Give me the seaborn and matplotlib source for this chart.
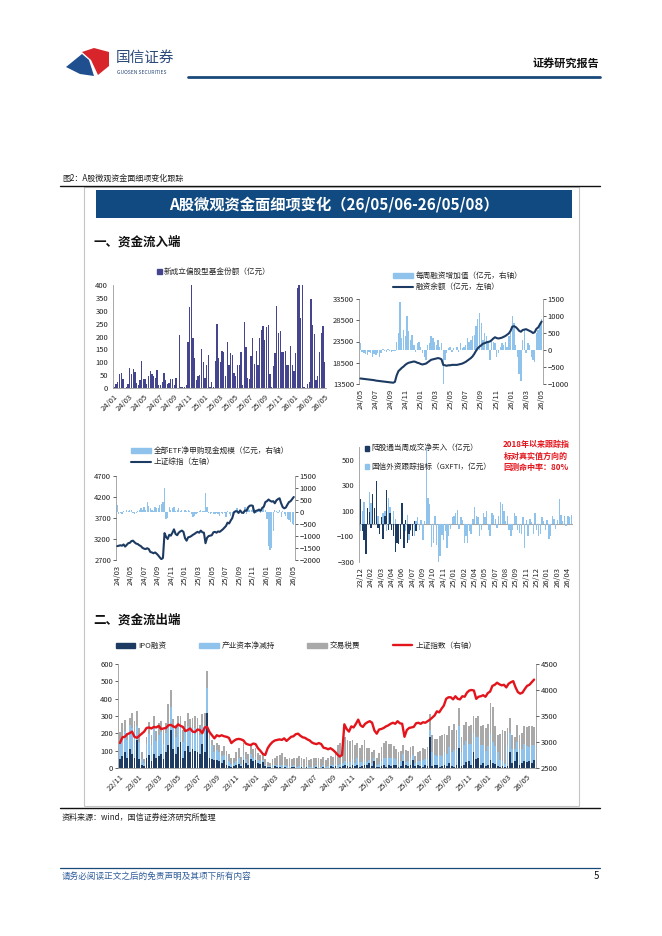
import numpy as np
import pandas as pd
import matplotlib
matplotlib.use("Agg")
import matplotlib.pyplot as plt
import seaborn as sns
from matplotlib.patches import Rectangle, Polygon, Patch
from matplotlib.lines import Line2D

# ---------------- data ----------------
p1_ticks = ['24/01', '24/03', '24/05', '24/07', '24/09', '24/11', '25/01', '25/03',
            '25/05', '25/07', '25/09', '25/11', '26/01', '26/03', '26/05']
new_fund = [5, 15, 25, 55, 60, 35, 0, 5, 15, 78, 55, 72, 62, 20, 10, 30, 105, 35, 35, 15,
            45, 65, 55, 45, 40, 68, 10, 10, 25, 60, 30, 15, 20, 35, 35, 10, 40, 0, 205, 5,
            5, 5, 10, 180, 315, 400, 195, 115, 30, 45, 50, 150, 100, 40, 90, 130, 5, 25, 5, 105,
            250, 115, 100, 145, 140, 45, 180, 90, 135, 130, 60, 45, 90, 90, 140, 10, 255, 160, 40, 35,
            125, 195, 95, 145, 90, 195, 225, 240, 185, 235, 245, 55, 5, 85, 135, 320, 215, 220, 140, 140,
            145, 90, 90, 165, 90, 65, 135, 390, 400, 270, 400, 5, 0, 15, 25, 345, 245, 210, 30, 45,
            140, 215, 240, 100]

p2_ticks = ['24/05', '24/07', '24/09', '24/11', '25/01', '25/03', '25/05', '25/07',
            '25/09', '25/11', '26/01', '26/03', '26/05']
margin_chg = [200, -50, -80, -120, -150, -60, -100, -200, -120, -150, -80, -200, -100,
              30, -40, -60, 20, -30, -60, -20, -40, 250, 500, 1400, 350, 600,
              400, 1000, 550, 300, 450, 150, -50, 200, 250, 100, -100, -200, -300,
              150, 200, 400, 350, 250, 150, 300, 100, 200, -1000, -300, -100, 50,
              100, -50, 50, 0, 100, -50, 200, 50, 100, 150, 350, 250, 300,
              400, 450, 700, 900, 1100, 800, 300, 500, 400, 200, -300, 300, 250,
              200, -200, -100, 100, 200, 150, 250, 100, 400, 500, 1000, 800, 150,
              -200, -700, -900, 300, 600, -100, 200, 150, -200, -300, -350, 500, 600, 800, 900]
margin_bal = [14800, 14750, 14700, 14650, 14600, 14550, 14500, 14450,
              14400, 14300, 14250, 14200, 14150, 14100, 14050, 14000, 13950,
              13900, 13850, 13800, 14000, 15500, 16500, 16900, 17300, 17600,
              18000, 18300, 18500, 18600, 18700, 18800, 18700, 18500, 18400,
              18200, 18100, 18200, 18300, 18600, 18900, 19200, 19300,
              19400, 19500, 19600, 19500, 19300, 18000, 17900, 17800, 17900,
              17900, 18000, 18000, 18000, 18000, 18100, 18200, 18300, 18500,
              18700, 19000, 19300, 19600, 20000, 20600, 21300, 21900, 22300,
              22600, 23000, 23100, 23300, 23400, 23500, 23800, 24200,
              24500, 24300, 24200, 24300, 24400, 24600, 24800, 25100, 25400,
              26000, 27000, 27100, 26900, 26500, 26000, 25800, 26200,
              26300, 26400, 26200, 26000, 25800, 25500, 25700, 26500, 26800, 27500, 28200]

p3_ticks = ['24/03', '24/05', '24/07', '24/09', '24/11', '25/01', '25/03', '25/05',
            '25/07', '25/09', '25/11', '26/01', '26/03', '26/05']
etf_flow = [300, -100, -50, -80, 50, 20, 80, 60, 100, 100, -50, -100, -30, 50, 80, 150, 100,
            200, 100, 400, 250, 150, 100, 50, 200, 180, 150, 300, 350, 400,
            1000, -300, -250, 200, 100, 150, 200, 50, 100, 150, 50, 100, 0,
            80, 50, 100, 50, -100, -200, -150, -100, -50, 50, 100, 50, 30,
            800, 200, -50, -100, -50, -100, -80, -30, -100, -150, -50, -100,
            -50, -200, 50, -100, -150, -100, 50, 100, 150, 50, 100, -100, 50,
            200, -100, 150, 100, 100, 200, 50, -50, 100, 50, -50, 100, 150,
            100, -300, -1400, -1600, -1500, -800, 100, 50, -50, 100, -200, 50, -100,
            -150, -300, -350, -400, -500, -550]
sse_index = [3030, 3040, 3050, 3040, 3070, 3020, 3060, 3100, 3110, 3150, 3160, 3120, 3090,
             3080, 3050, 3030, 2990, 2970, 2960, 2980, 2960, 2890, 2880, 2860, 2880, 2850,
             2810, 2760, 2720, 2750, 3340, 3250, 3200, 3300, 3280, 3350, 3430, 3320, 3290,
             3350, 3380, 3400, 3370, 3220, 3160, 3240, 3250, 3270, 3300, 3320, 3350,
             3370, 3350, 3400, 3360, 3350, 3100, 3230, 3270, 3280, 3290, 3360, 3370, 3350,
             3380, 3370, 3400, 3430, 3470, 3510, 3590, 3570, 3640, 3700, 3830, 3860, 3860,
             3820, 3880, 3830, 3820, 3880, 3870, 3950, 3990, 4000, 3990, 3830, 3870,
             3880, 3900, 3870, 3940, 3970, 4080, 4100, 4140, 4110, 4090, 4100, 4050, 4120,
             4150, 4170, 4050, 3960, 3930, 3950, 4020, 4080, 4100, 4150, 4200]

p4_ticks = ['23/12', '24/02', '24/03', '24/04', '24/06', '24/07', '24/09', '24/10', '24/11',
            '25/01', '25/02', '25/04', '25/05', '25/07', '25/08', '25/09', '25/11', '25/12',
            '26/01', '26/03', '26/04']
hgt_net = [190, -60, -130, -240, 120, 90, -30, 230, 120, 330, -30, -80, 50, -120, 60, 260,
           -50, 80, -50, -100, -220, -150, -160, -120, 160, -190, 30, -150, -80, -50, -100, 20, -60]
gxfti = [-60, 100, 170, -180, 60, 250, 160, 200, 110, 150, 60, -40, 40, 80, 100, -60, 200, 130,
         -30, 100, 40, -90, -80, -100, 50, -140, -60, 70, -130, -60, -20, -100, 20, 50, -50, 30,
         -130, 20,
         600, 200, 150, -180, -150, 60, -170, -300, -250, -90,
         -130, -60, -190, -100, -40, 50, 60, 80, 110, -40,
         50, 30, -150, -100, -150, -60, -80, 40, 130, 60,
         50, -100, -50, 80, 50, 100, -50, -100, 80, 70,
         40, -30, 60, 170, 150, 100, 20, 60, -50, -100,
         -50, 80, 60, -50, -70, -80, 50, -190, 30, -100,
         40, 10, -80, 80, -50, -100, -80, 50, 20, -50,
         30, -120, -100, 60, 40, -40, 30, 190, 70, 20,
         60, -20, 60, 50, 70]

p5_ticks = ['22/11', '23/01', '23/03', '23/05', '23/07', '23/09', '23/11', '24/01', '24/03',
            '24/05', '24/07', '24/09', '24/11', '25/01', '25/03', '25/05', '25/07', '25/09',
            '25/11', '26/01', '26/03', '26/05']
ipo = [50, 70, 95, 60, 110, 80, 60, 160,
       50, 20, 10, 60, 75, 40, 80, 55,
       70, 80, 50, 90, 130, 220, 110, 80,
       120, 150, 60, 100, 125, 90, 110, 100,
       90, 80, 140, 90, 320, 60, 50, 45,
       45, 40, 30, 45, 20, 10, 5, 10,
       20, 25, 10, 45, 30, 15, 50, 40,
       45, 30, 25, 35, 10, 5, 5, 0,
       10, 5, 5, 0, 5, 0, 0, 5,
       5, 0, 0, 5, 0, 5, 0, 0,
       0, 5, 0, 0, 5, 0, 0, 10,
       5, 10, 0, 5, 10, 15, 10, 5,
       20, 10, 15, 5, 10, 20, 15, 30,
       10, 40, 5, 5, 10, 15, 5, 20,
       10, 15, 20, 5, 10, 40, 15, 10,
       20, 45, 10, 15, 10, 5, 20, 10,
       180, 10, 15, 20, 5, 10, 15, 10,
       30, 10, 5, 20, 115, 10, 20, 35,
       40, 20, 90, 50, 60, 20, 30, 10,
       15, 45, 30, 25, 10, 5, 10, 5,
       10, 90, 30, 40, 90, 20, 30, 40,
       35, 40, 30, 45]
net_reduce = [100, 110, 120, 100, 140, 150, 150, 80,
              100, 30, 20, 80, 120, 90, 150, 100,
              120, 130, 90, 110, 110, 130, 120, 100,
              120, 100, 90, 110, 120, 140, 120, 130,
              120, 110, 100, 150, 140, 110, 80, 50,
              60, 50, 40, 30, 50, 30, 20, 20,
              20, 30, 15, 30, 20, 15, 30, 20,
              20, 15, 15, 10, 10, 5, 5, 20,
              10, 15, 10, 15, 10, 10, 10, 5,
              10, 5, 10, 10, 5, 10, 5, 5,
              5, 10, 5, 5, 10, 5, 10, 10,
              10, 15, 20, 20, 20, 25, 20, 30,
              30, 20, 40, 30, 25, 30, 20, 15,
              20, 15, 10, 20, 30, 40, 50, 40,
              50, 40, 30, 20, 30, 40, 20, 30,
              40, 30, 20, 25, 30, 40, 30, 40,
              40, 80, 60, 50, 70, 60, 80, 70,
              90, 80, 100, 90, 130, 80, 110, 120,
              100, 120, 110, 130, 120, 110, 100, 90,
              110, 150, 120, 100, 80, 40, 30, 20,
              120, 110, 80, 70, 60, 90, 80, 100,
              90, 80, 100, 90]
trade_tax = [60, 80, 60, 40, 40, 90, 60, 90,
             80, 40, 20, 40, 70, 60, 70, 60,
             70, 60, 80, 60, 130, 100, 50, 70,
             60, 50, 70, 60, 70, 50, 60, 70,
             80, 60, 70, 80, 100, 40, 30, 40,
             40, 40, 30, 50, 30, 40, 30, 30,
             50, 60, 40, 70, 40, 50, 60, 50,
             50, 40, 35, 40, 30, 25, 20, 30,
             40, 50, 60, 70, 50, 40, 50, 40,
             40, 50, 60, 40, 45, 50, 40, 45,
             50, 40, 55, 45, 50, 40, 45, 50,
             50, 60, 110, 120, 130, 140, 130, 120,
             110, 100, 90, 80, 100, 110, 80, 70,
             60, 50, 40, 60, 80, 90, 100, 80,
             80, 70, 60, 70, 60, 50, 70, 60,
             60, 50, 40, 50, 60, 70, 60, 70,
             90, 100, 90, 100, 110, 120, 100, 110,
             120, 130, 150, 110, 100, 90, 120, 110,
             100, 110, 100, 110, 120, 110, 120, 130,
             130, 180, 200, 120, 100, 150, 180, 190,
             100, 90, 80, 70, 100, 80, 90, 100,
             110, 120, 110, 100]
sse_early = [2980, 3090, 3100, 3150, 3170, 3200, 3100, 3080, 3120, 3160, 3200, 3270,
             3280, 3260, 3290, 3280, 3310, 3250, 3260, 3270, 3320, 3330, 3300, 3280,
             3340, 3310, 3290, 3210, 3230, 3260, 3200, 3190, 3240, 3230, 3170, 3280,
             3290, 3190, 3130, 3070, 3130, 3110, 3130, 3110, 3100, 3080, 2980, 3020,
             3050, 3060, 3050, 3030, 2970, 2950, 2940, 2970, 2960, 2880, 2830, 2770,
             2750, 2880, 2950, 3000]

# ---------------- style ----------------
sns.set_theme(style="white")
plt.rcParams['font.family'] = ['Noto Sans CJK SC', 'DejaVu Sans']
plt.rcParams['axes.unicode_minus'] = True

NAVY = '#1c3a62'
LBLUE = '#8fc3ec'
PURP = '#45458f'
GRAY = '#a9a9a9'
RED = '#e3141b'
BANNER = '#114a80'
TICK_FS = 5.5

W, H = 662, 936
fig = plt.figure(figsize=(W / 100, H / 100), dpi=100)
fig.patch.set_facecolor('white')


def R(x0, y0, x1, y1):
    return [x0 / W, 1 - y1 / H, (x1 - x0) / W, (y1 - y0) / H]


def P(x, y):
    return (x / W, 1 - y / H)


def hline(x0, x1, y, color, lw):
    fig.add_artist(Line2D([x0 / W, x1 / W], [1 - y / H, 1 - y / H], color=color, lw=lw,
                          transform=fig.transFigure))


def style(ax, spines=('left',)):
    for s in ['left', 'right', 'top', 'bottom']:
        ax.spines[s].set_visible(s in spines)
        ax.spines[s].set_color('#9a9a9a')
        ax.spines[s].set_linewidth(0.6)
    ax.tick_params(labelsize=TICK_FS, colors='#222222', length=2, width=0.5, pad=1.5)
    ax.set_xlabel('')
    ax.set_ylabel('')
    ax.patch.set_alpha(0)


# ---------------- page decoration ----------------
fig.add_artist(Polygon([P(66, 67), P(82, 54), P(89, 60), P(94, 76), P(80, 74)], closed=True,
                       facecolor='#1f4f8f', edgecolor='none', transform=fig.transFigure))
fig.add_artist(Polygon([P(82, 52), P(94, 48), P(109, 52), P(109, 66), P(98, 75), P(91, 60)],
                       closed=True, facecolor='#d8242b', edgecolor='none', transform=fig.transFigure))
fig.text(*P(116, 58), '国信证券', fontsize=10.5, color='#2b4a7a', va='center', ha='left')
fig.text(*P(117, 72), 'GUOSEN SECURITIES', fontsize=3.6, color='#2b4a7a', va='center', ha='left')
hline(188, 600, 76.5, '#1a4a7a', 2.0)
fig.text(*P(599, 63), '证券研究报告', fontsize=8, fontweight='bold', color='#111111',
         va='center', ha='right')

fig.text(*P(62, 178), '图2：A股微观资金面细项变化跟踪', fontsize=5.8, color='#222222',
         va='center', ha='left')
hline(60, 600, 186, '#111111', 1.0)
fig.add_artist(Rectangle(P(84, 806), (579 - 84) / W, (806 - 187) / H, fill=False,
                         edgecolor='#c4c4c4', lw=0.8, transform=fig.transFigure))
fig.add_artist(Rectangle(P(96, 218), (572 - 96) / W, (218 - 190) / H, facecolor=BANNER,
                         edgecolor='none', transform=fig.transFigure))
fig.text(*P(334, 204), 'A股微观资金面细项变化（26/05/06-26/05/08）', fontsize=11,
         fontweight='bold', color='white', va='center', ha='center')
fig.text(*P(93, 242), '一、资金流入端', fontsize=9, fontweight='bold', color='#111111',
         va='center', ha='left')
fig.text(*P(93, 620), '二、资金流出端', fontsize=9, fontweight='bold', color='#111111',
         va='center', ha='left')
hline(60, 600, 808, '#111111', 1.0)
fig.text(*P(62, 817), '资料来源：wind，国信证券经济研究所整理', fontsize=5.8, color='#222222',
         va='center', ha='left')
hline(60, 600, 868, '#1a4a7a', 0.9)
fig.text(*P(62, 876), '请务必阅读正文之后的免责声明及其项下所有内容', fontsize=6.2, style='italic',
         color='#2f5c9a', va='center', ha='left')
fig.text(*P(599, 876), '5', fontsize=7, color='#111111', va='center', ha='right')

# ---------------- panel 1: new equity funds ----------------
ax1 = fig.add_axes(R(113, 285, 326, 388))
n1 = len(new_fund)
df1 = pd.DataFrame({'x': np.arange(n1), 'v': new_fund})
sns.barplot(data=df1, x='x', y='v', color=PURP, native_scale=True, width=0.75, linewidth=0,
            saturation=1, errorbar=None, ax=ax1)
ax1.set_xlim(-0.8, n1 - 0.2)
ax1.set_ylim(0, 400)
ax1.set_yticks(range(0, 401, 50))
ax1.set_xticks(np.linspace(0, n1 - 1, len(p1_ticks)))
ax1.set_xticklabels(p1_ticks, rotation=45, ha='right', rotation_mode='anchor')
style(ax1, ('left', 'bottom'))
ax1.legend(handles=[Patch(color=PURP)], labels=['新成立偏股型基金份额（亿元）'], loc='center',
           bbox_to_anchor=P(214, 272), bbox_transform=fig.transFigure, frameon=False,
           fontsize=5.5, handlelength=0.6, handleheight=0.6, handletextpad=0.3)


def dual_panel(rect, bars, line, bar_lim, bar_ticks, line_lim, line_ticks, ticks):
    ax = fig.add_axes(rect)
    nb = len(bars)
    dfb = pd.DataFrame({'x': np.arange(nb), 'v': bars})
    sns.barplot(data=dfb, x='x', y='v', color=LBLUE, native_scale=True, width=0.8,
                linewidth=0, saturation=1, errorbar=None, ax=ax)
    ax.set_ylim(*bar_lim)
    ax.set_yticks(bar_ticks)
    axt = ax.twinx()
    dfl = pd.DataFrame({'x': np.linspace(0, nb - 1, len(line)), 'v': line})
    sns.lineplot(data=dfl, x='x', y='v', color=NAVY, lw=1.5, ax=axt)
    axt.set_ylim(*line_lim)
    axt.set_yticks(line_ticks)
    ax.yaxis.tick_right()
    axt.yaxis.tick_left()
    ax.set_xlim(-0.8, nb - 0.2)
    ax.set_xticks(np.linspace(0, nb - 1, len(ticks)))
    ax.set_xticklabels(ticks, rotation=90)
    style(ax, ('left', 'right'))
    style(axt, ())
    return ax, axt


# ---------------- panel 2: margin financing ----------------
dual_panel(R(359, 299, 543, 384), margin_chg, margin_bal, (-1000, 1500),
           range(-1000, 1501, 500), (13500, 33500), range(13500, 33501, 5000), p2_ticks)
fig.legend(handles=[Patch(color=LBLUE), Line2D([], [], color=NAVY, lw=1.5)],
           labels=['每周融资增加值（亿元，右轴）', '融资余额（亿元，左轴）'], loc='upper left',
           bbox_to_anchor=P(386, 265), frameon=False, fontsize=5.5, handlelength=2.6,
           handleheight=0.6, handletextpad=0.4, labelspacing=0.45)

# ---------------- panel 3: ETF flows & SSE ----------------
dual_panel(R(116, 476, 295, 560), etf_flow, sse_index, (-2000, 1500),
           range(-2000, 1501, 500), (2700, 4700), range(2700, 4701, 500), p3_ticks)
fig.legend(handles=[Patch(color=LBLUE), Line2D([], [], color=NAVY, lw=1.5)],
           labels=['全部ETF净申购现金规模（亿元，右轴）', '上证综指（左轴）'], loc='upper left',
           bbox_to_anchor=P(124, 440), frameon=False, fontsize=5.5, handlelength=2.6,
           handleheight=0.6, handletextpad=0.4, labelspacing=0.45)

# ---------------- panel 4: northbound / GXFTI ----------------
ax4 = fig.add_axes(R(359, 447, 573, 562))
n4 = len(gxfti)
df4 = pd.DataFrame({'x': np.arange(n4), 'v': gxfti})
df4h = pd.DataFrame({'x': np.arange(len(hgt_net)), 'v': hgt_net})
ax4.axhline(0, color='#a6a6a6', lw=0.8, zorder=0)
sns.barplot(data=df4, x='x', y='v', color=LBLUE, native_scale=True, width=0.8, linewidth=0,
            saturation=1, errorbar=None, ax=ax4)
sns.barplot(data=df4h, x='x', y='v', color=NAVY, native_scale=True, width=0.8, linewidth=0,
            saturation=1, errorbar=None, ax=ax4)
ax4.set_ylim(-300, 600)
ax4.set_yticks([-300, -100, 100, 300, 500])
ax4.set_xlim(-1, n4)
ax4.set_xticks(np.arange(len(p4_ticks)) * 6)
ax4.set_xticklabels(p4_ticks, rotation=90)
style(ax4, ('left',))
ax4.legend(handles=[Patch(color=NAVY), Patch(color=LBLUE)],
           labels=['陆股通当周成交净买入（亿元）', '国信外资跟踪指标（GXFTI，亿元）'],
           loc='upper left', bbox_to_anchor=P(358, 438), bbox_transform=fig.transFigure,
           frameon=False, fontsize=5.5, handlelength=0.6, handleheight=0.6,
           handletextpad=0.3, labelspacing=1.3)
for i, t in enumerate(['2018年以来跟踪指', '标对真实值方向的', '回测命中率：80%']):
    fig.text(*P(536, 445 + 11 * i), t, fontsize=5.8, fontweight='bold', color=RED,
             va='center', ha='center')

# ---------------- panel 5: outflows ----------------
ax5 = fig.add_axes(R(118, 664, 536, 768))
n5 = len(ipo)
ipo_a = np.array(ipo, dtype=float)
red_a = np.array(net_reduce, dtype=float)
tax_a = np.array(trade_tax, dtype=float)
df5 = pd.DataFrame({'x': np.arange(n5), 'ipo': ipo_a, 'mid': ipo_a + red_a,
                    'top': ipo_a + red_a + tax_a})
sns.barplot(data=df5, x='x', y='top', color=GRAY, native_scale=True, width=0.75, linewidth=0,
            saturation=1, errorbar=None, ax=ax5)
sns.barplot(data=df5, x='x', y='mid', color=LBLUE, native_scale=True, width=0.75, linewidth=0,
            saturation=1, errorbar=None, ax=ax5)
sns.barplot(data=df5, x='x', y='ipo', color=NAVY, native_scale=True, width=0.75, linewidth=0,
            saturation=1, errorbar=None, ax=ax5)
ax5.set_ylim(0, 600)
ax5.set_yticks(range(0, 601, 100))
ax5t = ax5.twinx()
n_early = len(sse_early)
x_line = np.concatenate([np.arange(n_early), np.linspace(n_early, n5 - 1, len(sse_index))])
df5l = pd.DataFrame({'x': x_line, 'v': list(sse_early) + list(sse_index)})
sns.lineplot(data=df5l, x='x', y='v', color=RED, lw=1.7, ax=ax5t)
ax5t.set_ylim(2500, 4500)
ax5t.set_yticks(range(2500, 4501, 500))
ax5.set_xlim(-0.8, n5 - 0.2)
ax5.set_xticks(np.arange(len(p5_ticks)) * 8)
ax5.set_xticklabels(p5_ticks, rotation=45, ha='right', rotation_mode='anchor')
style(ax5, ('left', 'right', 'bottom'))
style(ax5t, ())
fig.legend(handles=[Patch(color=NAVY), Patch(color=LBLUE), Patch(color=GRAY),
                    Line2D([], [], color=RED, lw=1.7)],
           labels=['IPO融资', '产业资本净减持', '交易税费', '上证指数（右轴）'], loc='center',
           bbox_to_anchor=P(296, 646), ncol=4, frameon=False, fontsize=5.5, handlelength=2.6,
           handleheight=0.6, handletextpad=0.4, columnspacing=4.2)

fig.savefig('out.png', dpi=100, facecolor='white')
